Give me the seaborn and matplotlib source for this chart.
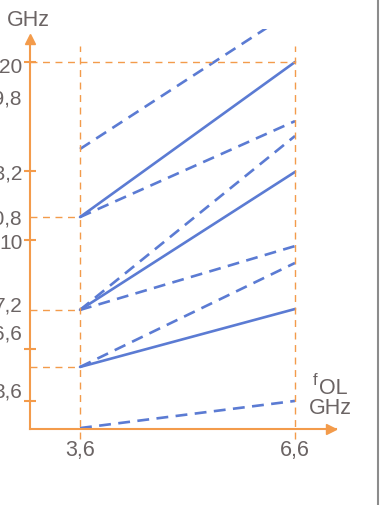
import numpy as np
import pandas as pd
import seaborn as sns
import matplotlib.pyplot as plt
from matplotlib.lines import Line2D

# f_OL range (GHz)
F_OL = [3.6, 6.6]
# output frequencies at f_OL = 3.6 and 6.6 (GHz)
LINE_START = [15.26, 11.55, 11.55, 6.49, 6.49, 6.49, 3.38, 3.38, 0.05]
LINE_END = [22.86, 20.0, 16.78, 15.97, 14.01, 9.97, 9.05, 6.54, 1.53]
LINE_KIND = ["dashed", "solid", "dashed", "dashed", "solid", "dashed", "dashed", "solid", "dashed"]

Y_LABELS = ["20", "19,8", "13,2", "10,8", "10", "7,2", "6,6", "3,6"]
Y_LABEL_POS = [19.89, 18.15, 14.06, 11.61, 10.3, 6.87, 5.34, 2.18]
Y_TICK_POS = [20.0, 14.06, 10.3, 4.36, 1.53]
GUIDE_Y = [11.55, 6.49, 3.38]
TOP_GUIDE = 20.0
X_LABELS = ["3,6", "6,6"]

ORANGE = "#F39B4B"
BLUE = "#5B7BD3"
GRAY = "#6b6464"

sns.set_style("white")
plt.rcParams['font.family'] = ['Liberation Sans', 'DejaVu Sans']

rows = []
for i, (a, b, k) in enumerate(zip(LINE_START, LINE_END, LINE_KIND)):
    rows.append({'line': i, 'f_ol': F_OL[0], 'f': a, 'kind': k})
    rows.append({'line': i, 'f_ol': F_OL[1], 'f': b, 'kind': k})
df = pd.DataFrame(rows)

W, H = 391, 506
fig = plt.figure(figsize=(W / 100, H / 100), dpi=100)
ax = fig.add_axes([30 / W, (H - 430) / H, 306 / W, 400 / H])

sns.lineplot(data=df, x='f_ol', y='f', units='line', estimator=None, style='kind',
             dashes={'solid': '', 'dashed': (4.5, 2.8)}, color=BLUE, lw=1.9,
             legend=False, ax=ax)

ax.set_xlim(2.902, 7.172)
ax.set_ylim(0, 21.8)

# guides
ax.vlines(F_OL, -0.54, 20.87, colors=ORANGE, lw=1.0, linestyles=(0, (5, 4)), clip_on=False)
ax.hlines(TOP_GUIDE, 2.902, F_OL[1], colors=ORANGE, lw=1.0, linestyles=(0, (5, 4)))
ax.hlines(GUIDE_Y, 2.902, F_OL[0], colors=ORANGE, lw=1.0, linestyles=(0, (5, 4)))

# axes with arrows
for s in ['top', 'right']:
    ax.spines[s].set_visible(False)
for s in ['left', 'bottom']:
    ax.spines[s].set_color(ORANGE)
    ax.spines[s].set_linewidth(1.5)
ax.spines['left'].set_bounds(0, 21.0)
ax.plot(0, 21.25, '^', color=ORANGE, ms=7, transform=ax.get_yaxis_transform(), clip_on=False)
ax.plot(0.985, 0, '>', color=ORANGE, ms=7, transform=ax.transAxes, clip_on=False)

ax.set_yticks(Y_LABEL_POS, Y_LABELS)
ax.set_yticks(Y_TICK_POS, minor=True)
ax.yaxis.remove_overlapping_locs = False
ax.tick_params(axis='y', which='major', length=0, pad=5.5, labelsize=15, labelcolor=GRAY)
ax.tick_params(axis='y', which='minor', direction='inout', length=9, width=1.5, color=ORANGE, left=True)
ax.set_xticks(F_OL, X_LABELS)
ax.tick_params(axis='x', length=0, pad=7, labelsize=15.5, labelcolor=GRAY)
ax.set_xlabel('')
ax.set_ylabel('')

fig.text(28 / W, 1 - 20 / H, "GHz", ha='center', va='center', fontsize=15.5, color=GRAY)
fig.text(315 / W, 1 - 381 / H, "f", ha='center', va='center', fontsize=12, color=GRAY)
fig.text(333 / W, 1 - 389 / H, "OL", ha='center', va='center', fontsize=15.5, color=GRAY)
fig.text(330 / W, 1 - 409 / H, "GHz", ha='center', va='center', fontsize=15.5, color=GRAY)

fig.add_artist(Line2D([378 / W, 378 / W], [0, 1], color='#8c8c8c', lw=1.5))

fig.savefig("out.png", dpi=100)
